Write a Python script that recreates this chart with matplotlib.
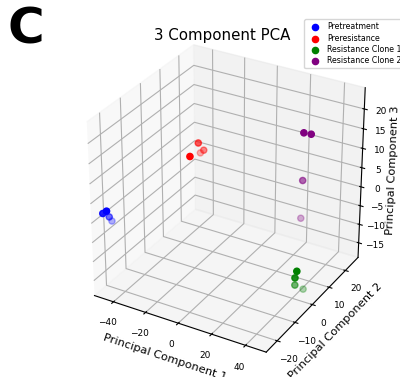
import numpy as np
import matplotlib
matplotlib.use("Agg")
import matplotlib.pyplot as plt

groups = ["Pretreatment", "Preresistance", "Resistance Clone 1", "Resistance Clone 2"]
colors = ["blue", "red", "green", "purple"]
pc1 = [
    [-48.8, -46.4, -48.0, -48.5],
    [-32.5, -32.0, -36.0, -28.6],
    [42.0, 41.0, 39.0, 41.0],
    [33.0, 36.0, 27.0, 23.0],
]
pc2 = [
    [-22.8, -22.8, -20.4, -18.8],
    [13.3, 15.8, 17.4, 5.4],
    [0.4, 0.4, 2.4, 5.4],
    [11.7, 13.0, 17.7, 21.1],
]
pc3 = [
    [1.6, 2.5, -0.2, -2.0],
    [7.3, 4.5, 2.7, 7.3],
    [-11.7, -13.6, -16.7, -18.9],
    [18.0, 17.5, 2.8, -9.1],
]

fig = plt.figure(figsize=(4.0, 3.77), dpi=100)
ax = fig.add_axes([0.1435, 0.0215, 0.833, 0.911], projection="3d")
ax.set_box_aspect((1, 1, 1), zoom=1.0)
for g, c, xs, ys, zs in zip(groups, colors, pc1, pc2, pc3):
    ax.scatter(xs, ys, zs, c=c, s=20, label=g)

ax.set_xlim(-52, 52)
ax.set_ylim(-26, 28)
ax.set_zlim(-19, 25.3)
ax.set_xticks([-40, -20, 0, 20, 40])
ax.set_yticks([-20, -10, 0, 10, 20])
ax.set_zticks([-15, -10, -5, 0, 5, 10, 15, 20])
ax.tick_params(labelsize=6.5, pad=0)
ax.set_xlabel("Principal Component 1", fontsize=8.2, labelpad=-5)
ax.set_ylabel("Principal Component 2", fontsize=8.2, labelpad=-5)
ax.set_zlabel("Principal Component 3", fontsize=8.2, labelpad=-6)
fig.text(0.556, 0.907, "3 Component PCA", fontsize=10.8, ha="center", va="center")
fig.text(0.02, 0.985, "C", fontsize=36, fontweight="bold", va="top", ha="left")
fig.legend(loc="upper left", bbox_to_anchor=(0.75, 0.96), fontsize=5.7, markerscale=1.0,
          handletextpad=0.5, borderpad=0.4, labelspacing=0.3)
fig.savefig("out.png", dpi=100)
